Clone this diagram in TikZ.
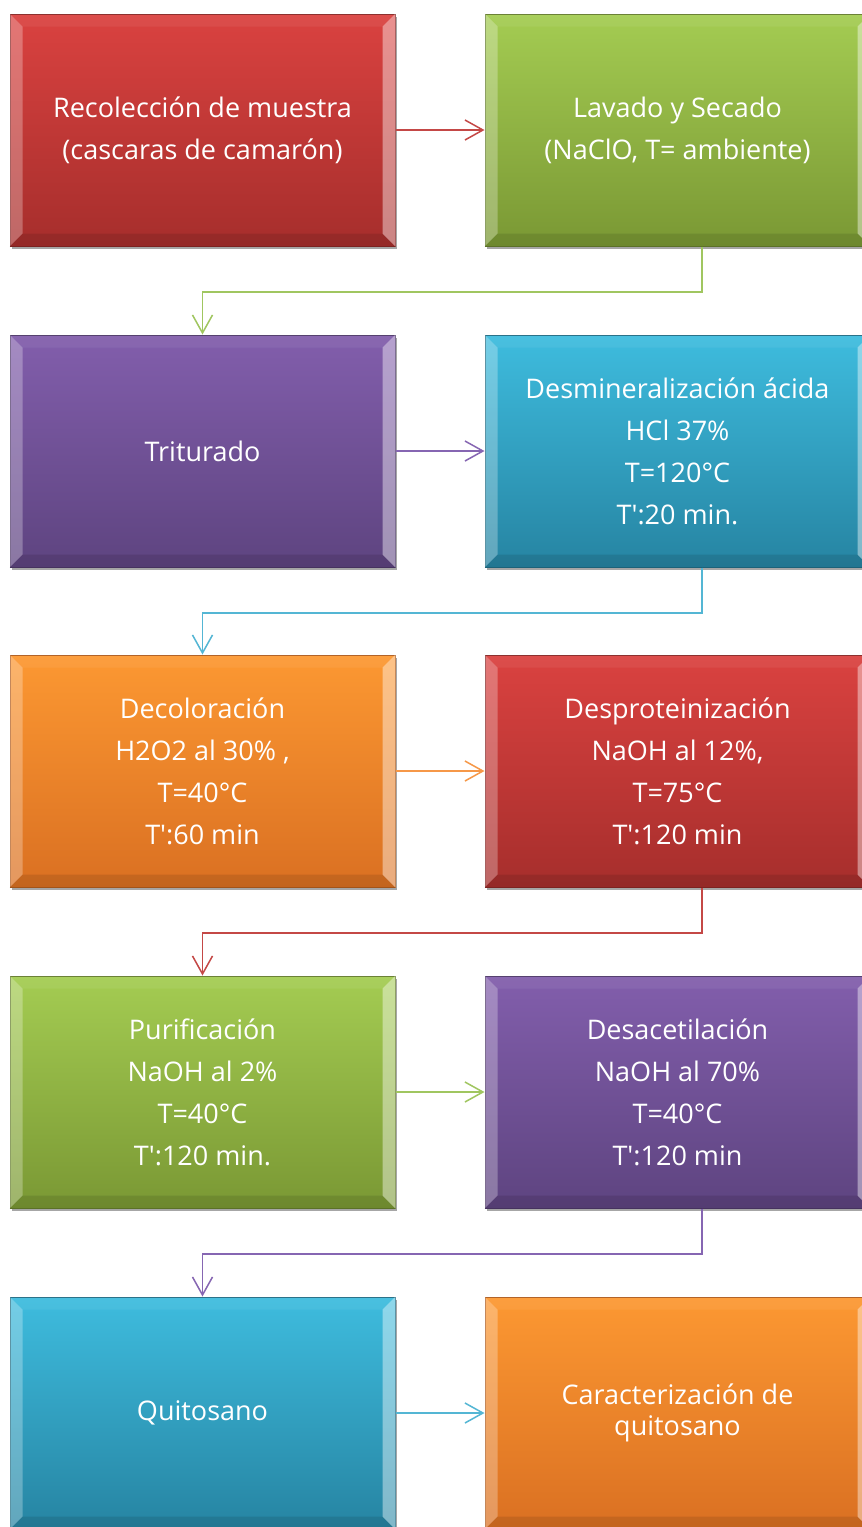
\documentclass[tikz,border=0pt]{standalone}
\usepackage{fontspec}
\setmainfont{Open Sans}
\usetikzlibrary{arrows.meta,shadows}
\definecolor{redT}{RGB}{218,66,64}\definecolor{redB}{RGB}{166,46,44}
\definecolor{grnT}{RGB}{164,204,82}\definecolor{grnB}{RGB}{122,152,52}
\definecolor{purT}{RGB}{130,94,172}\definecolor{purB}{RGB}{94,68,128}
\definecolor{bluT}{RGB}{62,188,222}\definecolor{bluB}{RGB}{38,132,162}
\definecolor{orgT}{RGB}{252,152,50}\definecolor{orgB}{RGB}{218,112,34}
\definecolor{redL}{RGB}{196,72,70}\definecolor{grnL}{RGB}{160,198,96}
\definecolor{purL}{RGB}{134,102,178}\definecolor{bluL}{RGB}{84,182,212}
\definecolor{orgL}{RGB}{246,152,72}
\tikzset{
  box/.style={rectangle, minimum width=192.5pt, minimum height=116pt, inner sep=0pt,
    text=white, align=center, font=\fontsize{13.5}{21}\selectfont, line width=0.5pt,
    drop shadow={shadow xshift=0.8pt, shadow yshift=-1.5pt, opacity=0.35, fill=black}},
  redbox/.style={box, top color=redT, bottom color=redB, draw=redB!80!black},
  grnbox/.style={box, top color=grnT, bottom color=grnB, draw=grnB!80!black},
  purbox/.style={box, top color=purT, bottom color=purB, draw=purB!80!black},
  blubox/.style={box, top color=bluT, bottom color=bluB, draw=bluB!80!black},
  orgbox/.style={box, top color=orgT, bottom color=orgB, draw=orgB!80!black},
  conn/.style={line width=0.75pt, -{Straight Barb[length=9pt,width=10pt,line width=0.75pt]}},
}
\newcommand\bevel[1]{%
  \fill[white, opacity=0.28] (#1.north west) -- ([shift={(13,13)}]#1.north west) -- ([shift={(13,-13)}]#1.south west) -- (#1.south west) -- cycle;
  \fill[white, opacity=0.42] (#1.north east) -- ([shift={(-13,13)}]#1.north east) -- ([shift={(-13,-13)}]#1.south east) -- (#1.south east) -- cycle;
  \fill[white, opacity=0.06] (#1.north west) -- ([shift={(13,13)}]#1.north west) -- ([shift={(-13,13)}]#1.north east) -- (#1.north east) -- cycle;
  \fill[black, opacity=0.10] (#1.south west) -- ([shift={(13,-13)}]#1.south west) -- ([shift={(-13,-13)}]#1.south east) -- (#1.south east) -- cycle;
}
\begin{document}
\begin{tikzpicture}[x=0.5pt,y=-0.5pt]
\clip (0,0) rectangle (862,1527);
\fill[white] (0,0) rectangle (862,1527);
% row 1
\node[redbox] (n1) at (202.5,130) {Recolección de muestra\\(cascaras de camarón)};
\node[grnbox] (n2) at (677.5,130) {Lavado y Secado\\(NaClO, T= ambiente)};
% row 2
\node[purbox] (n3) at (202.5,451) {Triturado};
\node[blubox] (n4) at (677.5,451) {Desmineralización ácida\\HCl 37\%\\T=120°C\\T\textquotesingle:20 min.};
% row 3
\node[orgbox] (n5) at (202.5,771) {Decoloración\\H2O2 al 30\% ,\\T=40°C\\T\textquotesingle:60 min};
\node[redbox] (n6) at (677.5,771) {Desproteinización\\NaOH al 12\%,\\T=75°C\\T\textquotesingle:120 min};
% row 4
\node[grnbox] (n7) at (202.5,1092) {Purificación\\NaOH al 2\%\\T=40°C\\T\textquotesingle:120 min.};
\node[purbox] (n8) at (677.5,1092) {Desacetilación\\NaOH al 70\%\\T=40°C\\T\textquotesingle:120 min};
% row 5
\node[blubox] (n9) at (202.5,1413) {Quitosano};
\node[orgbox, font=\fontsize{13.5}{15.5}\selectfont] (n10) at (677.5,1413) {Caracterización de\\quitosano};
\foreach \n in {n1,n2,n3,n4,n5,n6,n7,n8,n9,n10} {\bevel{\n}}
% horizontal connectors
\draw[conn, redL] (n1.east) -- (n2.west);
\draw[conn, purL] (n3.east) -- (n4.west);
\draw[conn, orgL] (n5.east) -- (n6.west);
\draw[conn, grnL] (n7.east) -- (n8.west);
\draw[conn, bluL] (n9.east) -- (n10.west);
% elbow connectors
\coordinate (e1) at (702,292);
\coordinate (e2) at (702,613);
\coordinate (e3) at (702,933);
\coordinate (e4) at (702,1254);
\draw[conn, grnL] (n2.south -| e1) -- (e1) -- (e1 -| n3.north) -- (n3.north);
\draw[conn, bluL] (n4.south -| e2) -- (e2) -- (e2 -| n5.north) -- (n5.north);
\draw[conn, redL] (n6.south -| e3) -- (e3) -- (e3 -| n7.north) -- (n7.north);
\draw[conn, purL] (n8.south -| e4) -- (e4) -- (e4 -| n9.north) -- (n9.north);
\end{tikzpicture}
\end{document}
